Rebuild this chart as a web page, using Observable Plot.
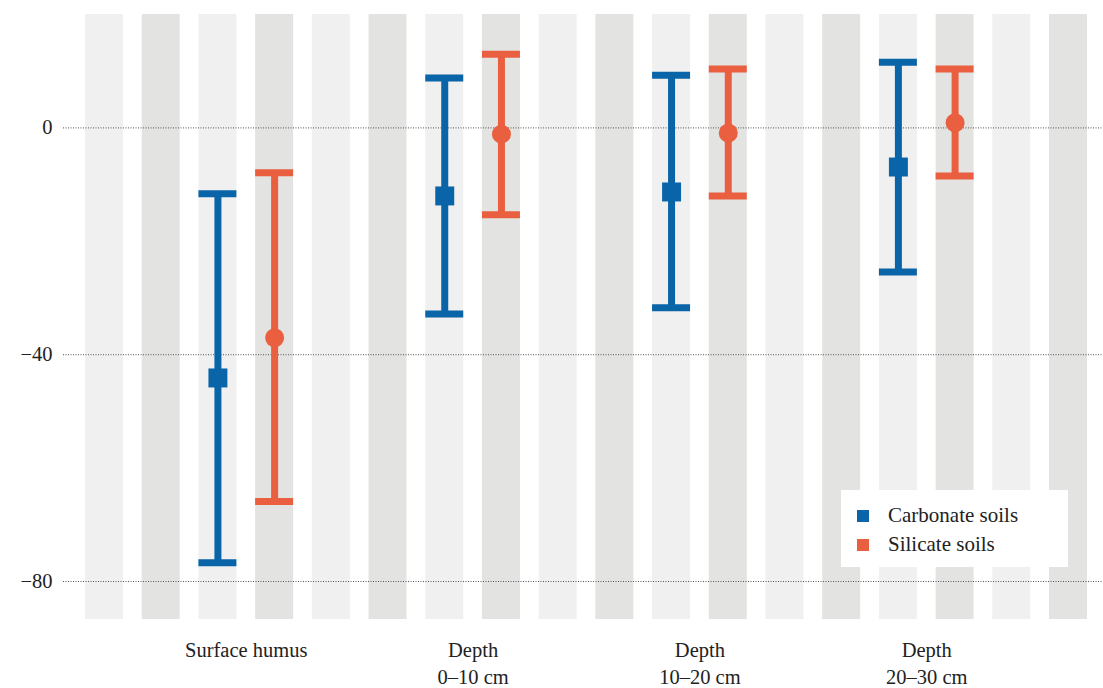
<!DOCTYPE html>
<html>
<head>
<meta charset="utf-8">
<script src="https://cdn.jsdelivr.net/npm/d3@7"></script>
<script src="https://cdn.jsdelivr.net/npm/@observablehq/plot@0.6"></script>
<style>
  html, body { margin: 0; padding: 0; background: #fff; }
  #wrap { position: relative; width: 1103px; height: 688px; font-family: "Liberation Serif", "DejaVu Serif", serif; color: #222; }
  #legend { position: absolute; left: 841px; top: 490px; width: 227px; height: 77px; background: #fff; font-size: 21px; }
  .item { position: absolute; left: 16px; display: flex; align-items: center; line-height: 1; }
  .sw { width: 12px; height: 12px; margin-right: 19px; flex: none; }
  #chart svg text { font-family: "Liberation Serif", "DejaVu Serif", serif; }
</style>
</head>
<body>
<div id="wrap"><div id="chart"></div>
  <div id="legend">
    <div class="item" style="top:15px"><div class="sw" style="background:#0a64a8"></div><span>Carbonate soils</span></div>
    <div class="item" style="top:44px"><div class="sw" style="background:#e95f3f"></div><span>Silicate soils</span></div>
  </div>
</div>
<script>
const groups = ["Surface humus", "Depth\n0–10 cm", "Depth\n10–20 cm", "Depth\n20–30 cm"];
const series = ["Carbonate soils", "Silicate soils"];
const colors = ["#0a64a8", "#e95f3f"];
const carbonateMean = [-44.1, -12.0, -11.3, -6.9];
const carbonateLow  = [-76.7, -32.8, -31.7, -25.4];
const carbonateHigh = [-11.6, 8.8, 9.3, 11.6];
const silicateMean  = [-37.0, -1.1, -0.9, 0.9];
const silicateLow   = [-65.9, -15.3, -12.0, -8.5];
const silicateHigh  = [-7.9, 13.0, 10.4, 10.4];
const yTicks = [0, -40, -80];
const yDomain = [-86.7, 20];

const nStripes = 18;
const half = 0.335;
const stripes = d3.range(nStripes);

const rows = [];
groups.forEach((g, i) => {
  rows.push({group: g, series: series[0], pos: 4 * i + 2, mean: carbonateMean[i], low: carbonateLow[i], high: carbonateHigh[i]});
  rows.push({group: g, series: series[1], pos: 4 * i + 3, mean: silicateMean[i], low: silicateLow[i], high: silicateHigh[i]});
});
const labels = groups.map((g, i) => ({label: g, pos: 4 * i + 2.5}));
const carb = rows.filter(d => d.series === series[0]);
const sil = rows.filter(d => d.series === series[1]);

const chart = Plot.plot({
  width: 1103,
  height: 688,
  marginLeft: 63,
  marginRight: 0,
  marginTop: 14,
  marginBottom: 69,
  style: {fontFamily: "'Liberation Serif', 'DejaVu Serif', serif", fontSize: "20.5px", color: "#222", background: "#fff"},
  x: {domain: [-0.723, 17.617], axis: null},
  y: {domain: yDomain},
  marks: [
    Plot.rect(stripes, {x1: d => d - half, x2: d => d + half, y1: yDomain[0], y2: yDomain[1], fill: d => d % 2 ? "#e3e3e1" : "#f0f0f0"}),
    Plot.gridY(yTicks, {stroke: "#555", strokeOpacity: 1, strokeDasharray: "1,1.5"}),
    Plot.axisY(yTicks, {tickSize: 0, tickPadding: 11, label: null, fontSize: 20.5}),
    Plot.ruleX(rows, {x: "pos", y1: "low", y2: "high", stroke: "series", strokeWidth: 7}),
    Plot.ruleY(rows, {y: "high", x1: d => d.pos - half, x2: d => d.pos + half, stroke: "series", strokeWidth: 7}),
    Plot.ruleY(rows, {y: "low", x1: d => d.pos - half, x2: d => d.pos + half, stroke: "series", strokeWidth: 7}),
    Plot.dot(carb, {x: "pos", y: "mean", symbol: "square", r: 10.7, fill: "series", stroke: null}),
    Plot.dot(sil, {x: "pos", y: "mean", symbol: "circle", r: 9.5, fill: "series", stroke: null}),
    Plot.text(labels, {x: "pos", text: "label", frameAnchor: "bottom", lineAnchor: "top", dy: 18, lineHeight: 1.33, fill: "#222"})
  ],
  color: {domain: series, range: colors}
});
document.getElementById("chart").appendChild(chart);
</script>
</body>
</html>
